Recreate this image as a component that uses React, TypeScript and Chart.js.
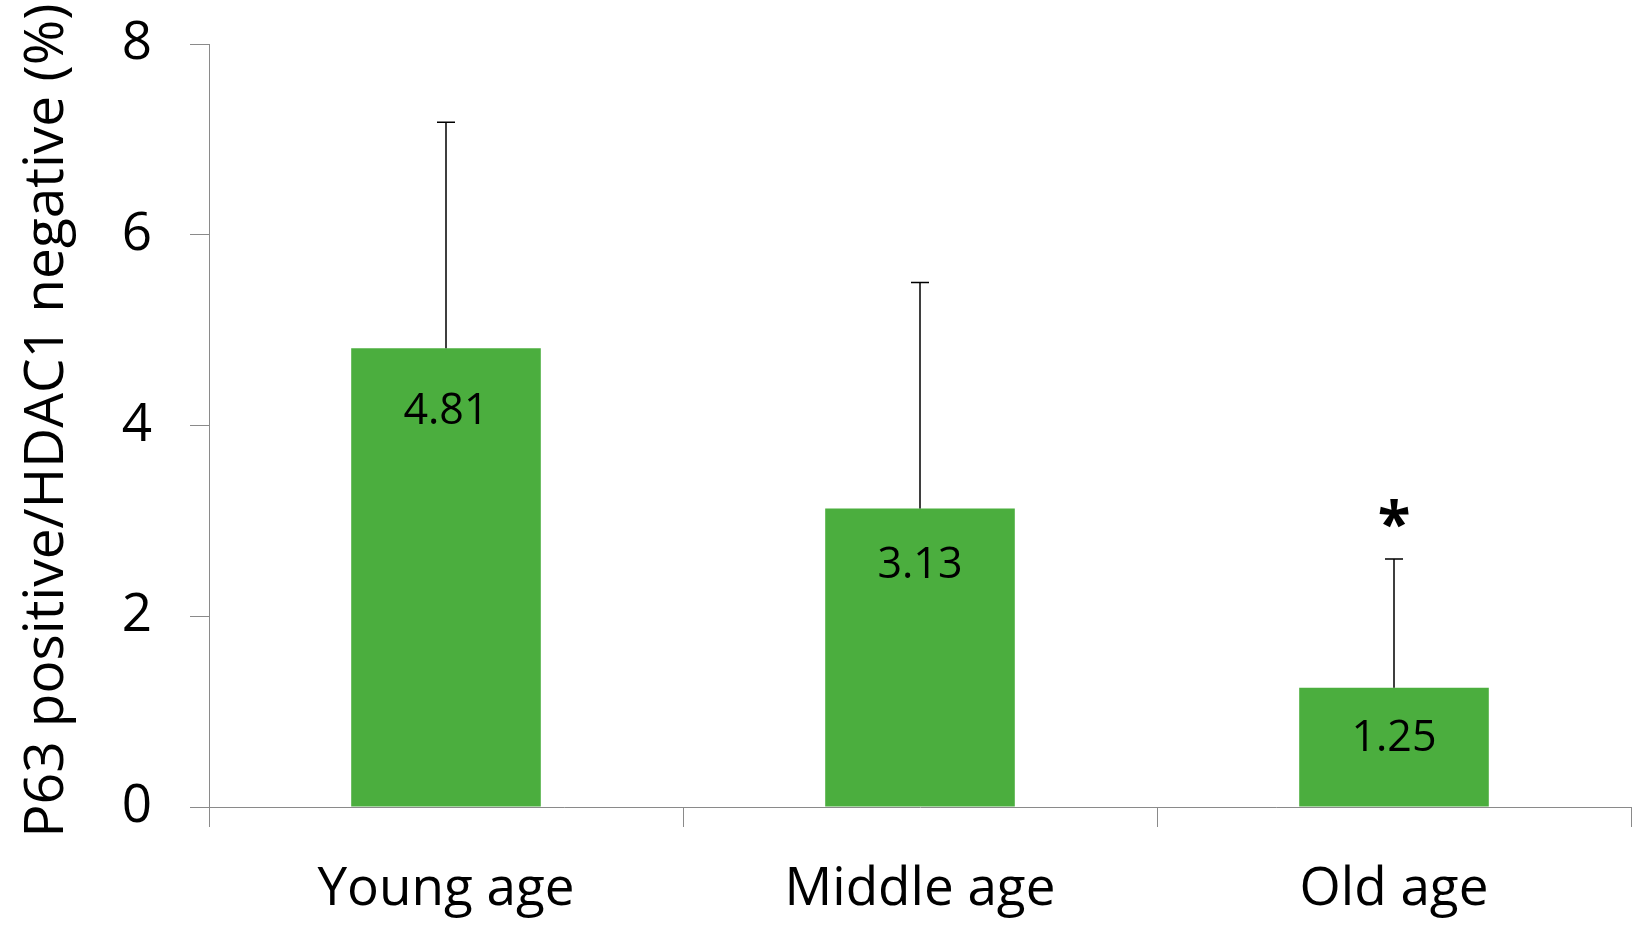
import React, { useEffect, useRef } from "react";
import { Chart, registerables } from "chart.js";

Chart.register(...registerables);

const categories = ["Young age", "Middle age", "Old age"];
const means = [4.81, 3.13, 1.25];
const errorsUp = [2.37, 2.37, 1.35];
const valueLabels = ["4.81", "3.13", "1.25"];
const markers = ["", "", "*"];
const yTicks = [0, 2, 4, 6, 8];
const yTitle = "P63 positive/HDAC1 negative (%)";

const FONT = "'Open Sans', sans-serif";
const GREEN = "#4BAE3E";
const AXIS = "#8a8a8a";

const overlay = {
  id: "overlay",
  afterDatasetsDraw(chart: any) {
    const ctx = chart.ctx;
    const meta = chart.getDatasetMeta(0);
    const y = chart.scales.y;
    const area = chart.chartArea;
    ctx.save();
    meta.data.forEach((bar: any, i: number) => {
      const x = bar.x;
      const top = bar.y;
      const errTop = y.getPixelForValue(means[i] + errorsUp[i]);
      ctx.strokeStyle = "#000";
      ctx.lineWidth = 1.5;
      ctx.beginPath();
      ctx.moveTo(x, top);
      ctx.lineTo(x, errTop);
      ctx.moveTo(x - 9, errTop);
      ctx.lineTo(x + 9, errTop);
      ctx.stroke();
      const h = bar.base - top;
      ctx.fillStyle = "#000";
      ctx.font = `43px ${FONT}`;
      ctx.textAlign = "center";
      ctx.textBaseline = "middle";
      ctx.fillText(valueLabels[i], x, top + 47 + 0.035 * h);
      if (markers[i]) {
        ctx.font = `bold 60px ${FONT}`;
        ctx.textBaseline = "alphabetic";
        ctx.fillText(markers[i], x, errTop - 14);
      }
    });
    // y-axis title
    ctx.translate(47, (area.top + area.bottom) / 2 - 5);
    ctx.rotate(-Math.PI / 2);
    ctx.fillStyle = "#000";
    ctx.font = `55px ${FONT}`;
    ctx.textAlign = "center";
    ctx.textBaseline = "middle";
    ctx.fillText(yTitle, 0, 0);
    ctx.restore();
  },
};

export default function App() {
  const ref = useRef<HTMLCanvasElement | null>(null);
  useEffect(() => {
    const chart = new Chart(ref.current as HTMLCanvasElement, {
      type: "bar",
      data: {
        labels: categories,
        datasets: [
          {
            data: means,
            backgroundColor: GREEN,
            borderWidth: 0,
            categoryPercentage: 1,
            barPercentage: 0.4,
          },
        ],
      },
      plugins: [overlay],
      options: {
        responsive: false,
        animation: false,
        layout: { padding: { top: 44, right: 8, left: 0, bottom: 0 } },
        plugins: { legend: { display: false }, tooltip: { enabled: false } },
        scales: {
          x: {
            grid: {
              display: true,
              drawOnChartArea: false,
              drawTicks: true,
              tickLength: 20,
              color: AXIS,
              offset: true,
              lineWidth: 1,
            },
            border: { display: true, color: AXIS, width: 1 },
            ticks: {
              color: "#000",
              font: { family: FONT, size: 53 },
              padding: 31,
              maxRotation: 0,
              autoSkip: false,
            },
            afterFit: (s: any) => {
              s.height = 118;
              s.paddingLeft = 0;
              s.paddingRight = 0;
            },
          },
          y: {
            min: 0,
            max: 8,
            afterBuildTicks: (s: any) => {
              s.ticks = yTicks.map((v) => ({ value: v }));
            },
            grid: {
              drawOnChartArea: false,
              drawTicks: true,
              tickLength: 19,
              color: AXIS,
            },
            border: { display: true, color: AXIS, width: 1 },
            ticks: {
              color: "#000",
              font: { family: FONT, size: 53 },
              padding: 38,
            },
            title: { display: false },
            afterFit: (s: any) => {
              s.width = 209;
              s.paddingTop = 0;
              s.paddingBottom = 0;
            },
          },
        },
      },
    } as any);
    return () => chart.destroy();
  }, []);
  return (
    <div
      style={{
        position: "absolute",
        left: 0,
        top: 0,
        width: 1639,
        height: 925,
        background: "#fff",
      }}
    >
      <canvas
        ref={ref}
        width={1639}
        height={925}
        style={{ display: "block", width: 1639, height: 925 }}
      />
    </div>
  );
}
